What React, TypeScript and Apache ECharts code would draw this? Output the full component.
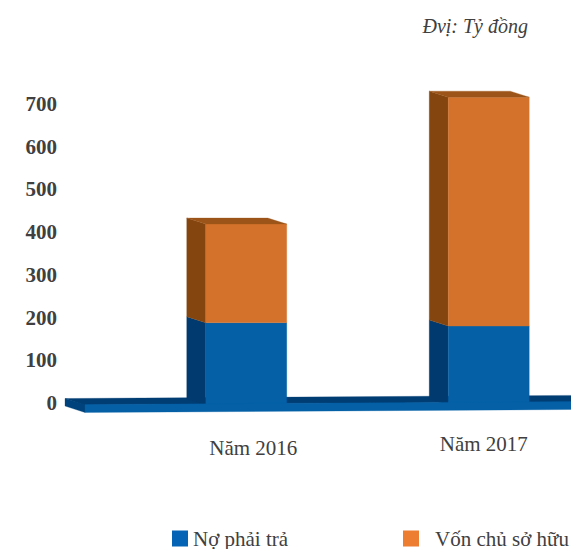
import React, { useEffect, useRef } from "react";
import * as echarts from "echarts";

const categories = ["Năm 2016", "Năm 2017"];
const debt = [188, 180];
const equity = [231, 536];
const yTicks = [0, 100, 200, 300, 400, 500, 600, 700];
const unitLabel = "Đvị: Tỷ đồng";
const debtName = "Nợ phải trả";
const equityName = "Vốn chủ sở hữu";

const FONT = '"Liberation Serif", serif';
const DEPTH_X = 19;
const DEPTH_Y = 6;
const TILT = -3 / 486;

const poly = (points: number[][], fill: string) => ({
  type: "polygon",
  shape: { points },
  style: { fill, stroke: fill, lineWidth: 0.3 },
});

const barRenderer =
  (front: string, side: string, top: string, isBase: boolean) =>
  (params: any, api: any) => {
    const idx = api.value(0);
    const lo = api.coord([idx, api.value(1)]);
    const hi = api.coord([idx, api.value(2)]);
    const w = api.size([1, 0])[0] * 0.334;
    const x0 = lo[0] - w / 2;
    const x1 = lo[0] + w / 2;
    const yTop = hi[1];
    const yBot = isBase ? lo[1] + 2 : lo[1];
    const children: any[] = [
      poly(
        [
          [x0 - DEPTH_X, yTop - DEPTH_Y],
          [x0, yTop],
          [x0, yBot],
          [x0 - DEPTH_X, yBot - DEPTH_Y],
        ],
        side
      ),
      poly([[x0, yTop], [x1, yTop], [x1, yBot], [x0, yBot]], front),
    ];
    if (!isBase) {
      children.push(
        poly(
          [
            [x0 - DEPTH_X, yTop - DEPTH_Y],
            [x1 - DEPTH_X, yTop - DEPTH_Y],
            [x1, yTop],
            [x0, yTop],
          ],
          top
        )
      );
    }
    return { type: "group", children };
  };

const floorBack = (params: any, api: any) => {
  const y0 = api.coord([0, 0])[1];
  const left = params.coordSys.x - 60;
  const right = params.coordSys.x + params.coordSys.width;
  const span = right - left;
  return {
    type: "group",
    children: [
      poly(
        [
          [left, y0 - 4.5],
          [right, y0 - 4.5 + span * TILT],
          [right, y0 + 2 + span * TILT],
          [left + DEPTH_X, y0 + 2],
        ],
        "#003D73"
      ),
      poly(
        [
          [left, y0 - 4.5],
          [left + 20, y0 + 1.5],
          [left + 20, y0 + 9.5],
          [left, y0 + 3],
        ],
        "#00437C"
      ),
    ],
  };
};

const floorFront = (params: any, api: any) => {
  const y0 = api.coord([0, 0])[1];
  const left = params.coordSys.x - 40;
  const right = params.coordSys.x + params.coordSys.width;
  const span = right - left;
  return poly(
    [
      [left, y0 + 1.5],
      [right, y0 + 1.5 + span * TILT],
      [right, y0 + 9.5 + span * TILT],
      [left, y0 + 9.5],
    ],
    "#0560A6"
  );
};

export default function App() {
  const ref = useRef<HTMLDivElement>(null);
  useEffect(() => {
    const chart = echarts.init(ref.current!, undefined, { renderer: "svg" });
    chart.setOption({
      animation: false,
      backgroundColor: "#ffffff",
      grid: { left: 125, top: 104, width: 485, height: 299, outerBoundsMode: "none" },
      title: {
        text: unitLabel,
        right: 43,
        top: 16,
        padding: 0,
        textStyle: {
          fontFamily: FONT,
          fontSize: 20,
          fontStyle: "italic",
          fontWeight: "normal",
          color: "#404040",
        },
      },
      xAxis: {
        type: "category",
        data: categories,
        axisLine: { show: false },
        axisTick: { show: false },
        axisLabel: {
          margin: 30,
          interval: 0,
          formatter: (v: string, i: number) => `{c${i}|${v}}`,
          rich: {
            c0: { fontFamily: FONT, fontSize: 21, color: "#404040", padding: [4, 0, 0, 14] },
            c1: { fontFamily: FONT, fontSize: 21, color: "#404040", padding: [0, 10, 0, 0] },
          },
        },
      },
      yAxis: {
        type: "value",
        min: yTicks[0],
        max: yTicks[yTicks.length - 1],
        interval: yTicks[1] - yTicks[0],
        splitLine: { show: false },
        axisLine: { show: false },
        axisTick: { show: false },
        axisLabel: {
          margin: 68,
          fontFamily: FONT,
          fontSize: 21,
          fontWeight: "bold",
          color: "#404040",
        },
      },
      legend: [
        {
          data: [debtName],
          left: 172,
          top: 528,
          padding: 0,
          itemWidth: 16,
          itemHeight: 16,
          icon: "rect",
          itemStyle: { color: "#0563B5" },
          textStyle: { fontFamily: FONT, fontSize: 21, color: "#404040" },
        },
        {
          data: [equityName],
          left: 403,
          top: 528,
          padding: 0,
          itemWidth: 16,
          itemHeight: 16,
          icon: "rect",
          itemStyle: { color: "#ED7D31" },
          textStyle: { fontFamily: FONT, fontSize: 21, color: "#404040", padding: [0, 0, 0, 11] },
        },
      ],
      series: [
        { type: "custom", name: "floorBack", silent: true, z: 1, data: [[0]], renderItem: floorBack },
        {
          type: "custom",
          name: debtName,
          z: 2,
          itemStyle: { color: "#0563B5" },
          data: debt.map((v, i) => [i, 0, v]),
          encode: { x: 0, y: 2 },
          renderItem: barRenderer("#0560A6", "#003A6E", "#003A6E", true),
        },
        {
          type: "custom",
          name: equityName,
          z: 3,
          itemStyle: { color: "#ED7D31" },
          data: equity.map((v, i) => [i, debt[i], debt[i] + v]),
          encode: { x: 0, y: 2 },
          renderItem: barRenderer("#D4722B", "#85450F", "#9C5418", false),
        },
        { type: "custom", name: "floorFront", silent: true, z: 4, data: [[0]], renderItem: floorFront },
      ],
    });
    return () => chart.dispose();
  }, []);
  return (
    <div
      ref={ref}
      style={{ position: "absolute", left: 0, top: 0, width: 571, height: 549 }}
    />
  );
}
